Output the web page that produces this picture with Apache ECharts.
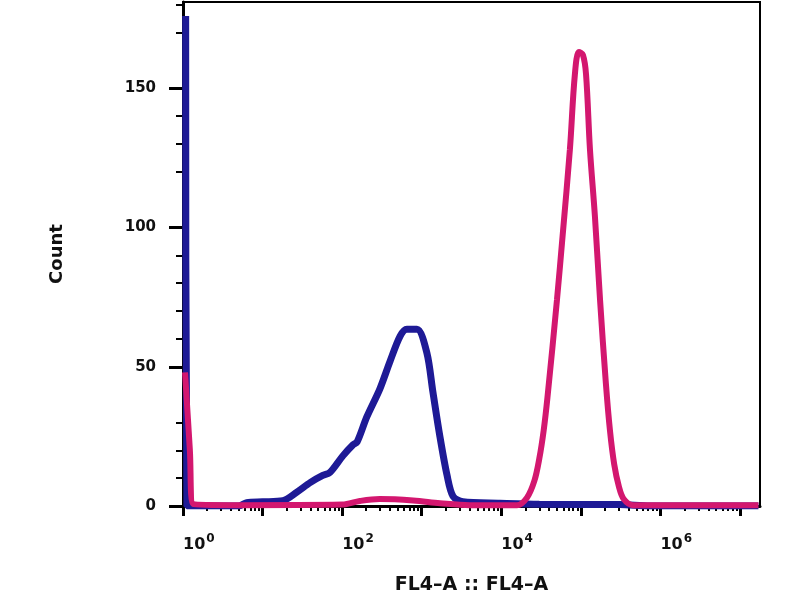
<!DOCTYPE html>
<html>
<head>
<meta charset="utf-8">
<script src="https://cdn.jsdelivr.net/npm/echarts@6/dist/echarts.min.js"></script>
<style>
html, body { margin: 0; padding: 0; background: #fff; }
#main { width: 800px; height: 600px; }
</style>
</head>
<body>
<div id="main"></div>
<script>
// --- data: [FL4-A value, count] ---
var blueCurve = [
	[1.08, 176], [1.12, 0], [5, 0], [6.3, 1.2], [10, 1.5], [18, 1.9], [27, 5],
	[40, 8.5], [57, 11], [70, 12], [102, 18], [137, 22], [154, 23], [204, 32],
	[297, 42], [400, 52], [535, 61], [650, 63.5], [870, 63.5], [1160, 55],
	[1380, 41], [1690, 25], [2080, 11], [2470, 3.5], [3290, 1.5], [9600, 1],
	[30000, 0.6], [310000, 0.5], [740000, 0], [17000000, 0]
];
var pinkCurve = [
	[1.06, 48], [1.22, 20], [1.34, 0.7], [5, 0.3], [100, 0.5], [167, 1.8],
	[297, 2.5], [780, 2], [1700, 1], [4000, 0.3], [15700, 0.3], [21000, 3],
	[26000, 9], [30000, 17], [34000, 27], [38000, 39], [50000, 74], [59300, 98],
	[72700, 128], [84000, 155], [94400, 163], [106000, 162], [116000, 155],
	[130000, 128], [150000, 104], [174000, 74], [206000, 44], [232000, 27],
	[262000, 15], [300000, 7], [345000, 2.5], [450000, 0.3], [17000000, 0.3]
];

// --- axes ---
var xMajorTicks = [1, 10, 100, 1000, 10000, 100000, 1000000, 10000000];
var xLabelTicks = [1, 100, 10000, 1000000];
var yLabelTicks = [0, 50, 100, 150];
var yMinorTicks = [10, 20, 30, 60, 70, 80, 90, 120, 130, 140, 170, 180];

var xMinorTicks = [];
for (var d = 0; d < xMajorTicks.length; d++) {
	for (var m = 2; m <= 9; m++) {
		var v = xMajorTicks[d] * m;
		if (v < 17800000) xMinorTicks.push(v);
	}
}

var xMin = 1, xMax = 17800000, yMin = 0, yMax = 181;
var txt = '#111';

var myChart = echarts.init(document.getElementById('main'));
myChart.setOption({
	animation: false,
	grid: {
		left: 183, right: 40, top: 2, bottom: 93,
		show: true, borderColor: '#000', borderWidth: 2
	},
	xAxis: [
		{
			type: 'log', logBase: 10, min: xMin, max: xMax,
			name: 'FL4–A :: FL4–A',
			nameLocation: 'middle', nameGap: 70,
			nameTextStyle: { fontFamily: 'DejaVu Sans', fontWeight: 'bold', fontSize: 19, color: txt },
			axisLine: { show: true, lineStyle: { color: '#000', width: 3 } },
			axisTick: { show: true, customValues: xMajorTicks, length: 10, lineStyle: { color: '#000', width: 3 } },
			axisLabel: {
				customValues: xLabelTicks,
				align: 'left',
				margin: 27,
				formatter: function (val) {
					var e = Math.round(Math.log(val) / Math.LN10);
					return '{b|10}{s|' + e + '}';
				},
				rich: {
					b: { fontFamily: 'DejaVu Sans', fontWeight: 'bold', fontSize: 16, color: txt },
					s: { fontFamily: 'DejaVu Sans', fontWeight: 'bold', fontSize: 12, color: txt, padding: [0, 0, 12, 1] }
				}
			},
			splitLine: { show: false },
			minorTick: { show: false }
		},
		{
			type: 'log', logBase: 10, min: xMin, max: xMax, position: 'bottom', offset: 0,
			axisLine: { show: false },
			axisTick: { show: true, customValues: xMinorTicks, length: 5, lineStyle: { color: '#000', width: 2 } },
			axisLabel: { show: false },
			splitLine: { show: false }
		}
	],
	yAxis: [
		{
			type: 'value', min: yMin, max: yMax,
			name: 'Count',
			nameLocation: 'middle', nameGap: 117, nameRotate: 90,
			nameTextStyle: { fontFamily: 'DejaVu Sans', fontWeight: 'bold', fontSize: 18, color: txt },
			axisLine: { show: true, lineStyle: { color: '#000', width: 3 } },
			axisTick: { show: true, customValues: yLabelTicks, length: 14, lineStyle: { color: '#000', width: 3 } },
			axisLabel: { customValues: yLabelTicks, margin: 27, fontFamily: 'DejaVu Sans', fontWeight: 'bold', fontSize: 15, color: txt },
			splitLine: { show: false }
		},
		{
			type: 'value', min: yMin, max: yMax, position: 'left', offset: 0,
			axisLine: { show: false },
			axisTick: { show: true, customValues: yMinorTicks, length: 7, lineStyle: { color: '#000', width: 2 } },
			axisLabel: { show: false },
			splitLine: { show: false }
		}
	],
	series: [
		{
			name: 'blue', type: 'line', xAxisIndex: 0, yAxisIndex: 0,
			data: blueCurve, showSymbol: false, smooth: 0.3,
			lineStyle: { color: '#1e1a96', width: 7 }
		},
		{
			name: 'pink', type: 'line', xAxisIndex: 0, yAxisIndex: 0,
			data: pinkCurve, showSymbol: false, smooth: 0.35,
			lineStyle: { color: '#d3176f', width: 6 }
		}
	]
});
</script>
</body>
</html>
